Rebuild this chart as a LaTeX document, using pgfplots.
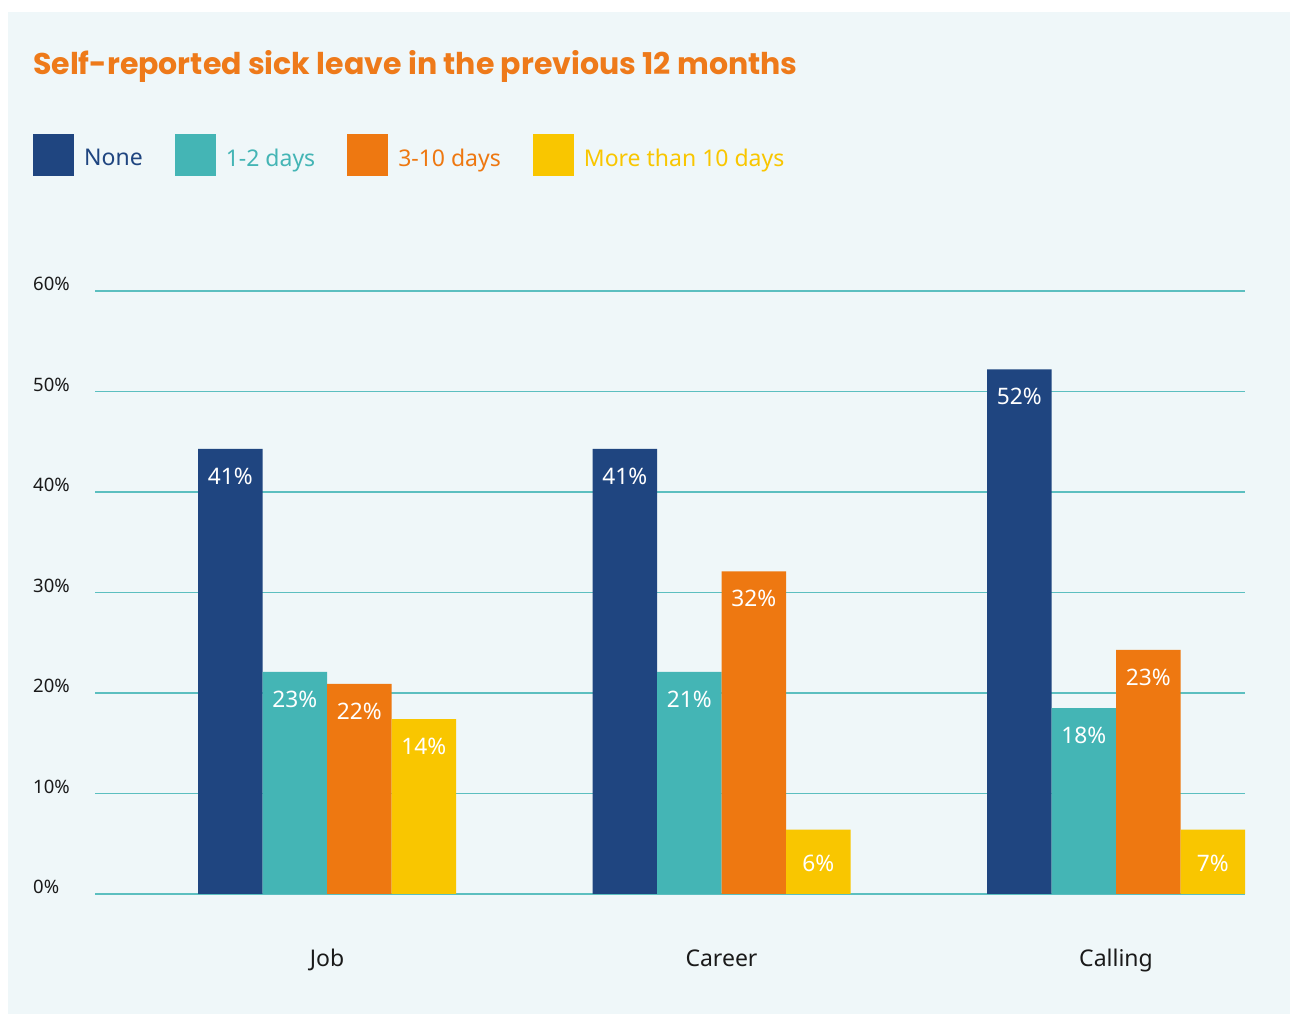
\documentclass[border=0pt]{standalone}
\usepackage{pgfplots}
\usepackage{pgfplotstable}
\pgfplotsset{compat=1.18}
\usepackage{fontspec}
\setmainfont{Noto Sans}
\newfontfamily\titlefont{Poppins}
\definecolor{bg}{HTML}{EFF7F9}
\definecolor{cnone}{HTML}{1F4580}
\definecolor{cone}{HTML}{44B5B5}
\definecolor{cthree}{HTML}{EE7811}
\definecolor{cmore}{HTML}{F9C600}
\definecolor{ctitle}{HTML}{EE7A1A}
\definecolor{cgrid}{HTML}{5CBFC0}
\definecolor{ctext}{HTML}{1A1A1A}
\pgfplotstableread{
x none nonel one onel three threel more morel
0 44.3 41 22.1 23 20.9 22 17.4 14
1 44.3 41 22.1 21 32.1 32 6.4 6
2 52.2 52 18.5 18 24.3 23 6.4 7
}\data
\begin{document}
\begin{tikzpicture}
\fill[white] (0,0) rectangle (1291bp,1015bp);
\fill[bg] (8bp,1bp) rectangle (1290bp,1003bp);
\node[anchor=base west, inner sep=0, text=ctitle, font=\titlefont\bfseries\fontsize{30bp}{35bp}\selectfont] at (33bp,940bp) {Self-reported sick leave in the previous 12 months};
\begin{axis}[
  at={(95bp,121bp)}, anchor=south west,
  scale only axis, width=1150bp, height=603bp,
  ybar=0pt, bar width=0.1635,
  xmin=-0.5881, xmax=2.327,
  ymin=0, ymax=60,
  xtick={0,1,2}, xticklabels={Job,Career,Calling},
  ytick={0,10,...,60},
  yticklabel={\pgfmathprintnumber{\tick}\%},
  /pgf/number format/assume math mode=true,
  major tick length=0pt,
  axis line style={draw=none},
  ymajorgrids, grid style={cgrid, line width=1.1bp},
  yticklabel style={anchor=west, xshift=-62bp, yshift=7bp, inner sep=0pt, text=ctext, font=\fontsize{18.5bp}{22bp}\selectfont},
  xticklabel style={anchor=base, yshift=-72bp, inner sep=0pt, text=ctext, font=\fontsize{23bp}{28bp}\selectfont},
  point meta=explicit symbolic,
  nodes near coords={\pgfplotspointmeta\%},
  visualization depends on={y \as \rawy},
  every node near coord/.append style={anchor=north, inner sep=0pt, text=white, font=\fontsize{22.7bp}{27bp}\selectfont, yshift={ifthenelse(\rawy<10,-25,-19)}},
  legend columns=4,
  legend style={at={(-0.0539,1.2255)}, anchor=west, draw=none, fill=none, inner sep=0pt,
    font=\fontsize{23bp}{28bp}\selectfont,
    /tikz/every odd column/.append style={column sep=8bp},
    /tikz/every even column/.append style={column sep=30bp}},
  legend image code/.code={\fill[#1] (0bp,-18bp) rectangle (41bp,24bp);},
]
\addplot[fill=cnone, draw=none] table[x=x, y=none, meta=nonel] {\data};
\addlegendentry{\textcolor{cnone}{None}}
\addplot[fill=cone, draw=none] table[x=x, y=one, meta=onel] {\data};
\addlegendentry{\textcolor{cone}{1-2 days}}
\addplot[fill=cthree, draw=none] table[x=x, y=three, meta=threel] {\data};
\addlegendentry{\textcolor{cthree}{3-10 days}}
\addplot[fill=cmore, draw=none] table[x=x, y=more, meta=morel] {\data};
\addlegendentry{\textcolor{cmore}{More than 10 days}}
\end{axis}
\end{tikzpicture}
\end{document}
